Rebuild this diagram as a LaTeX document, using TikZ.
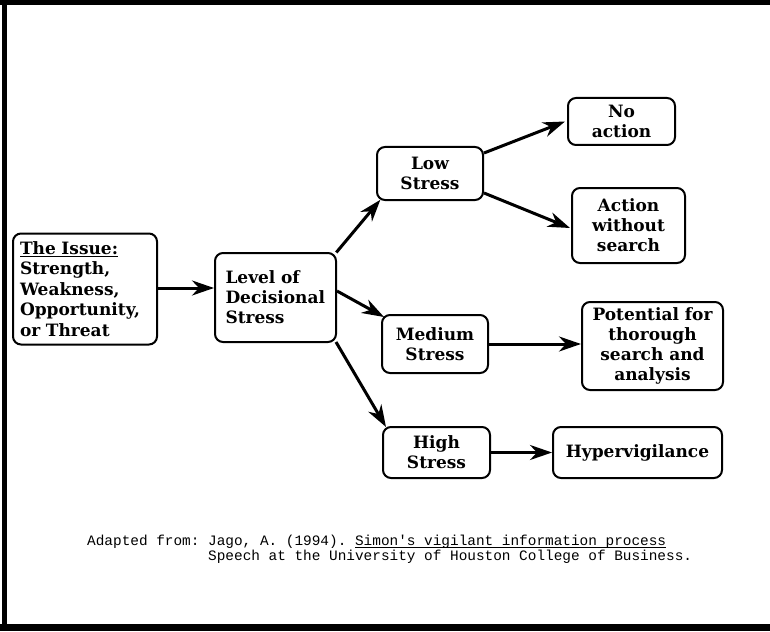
\documentclass[tikz,border=0pt]{standalone}
\usepackage{fontspec}
\setmainfont{DejaVu Serif}
\setmonofont{Liberation Mono}
\usetikzlibrary{arrows.meta}
\newcommand\myul[1]{\setbox0\hbox{#1}\rlap{\rule[-3pt]{\wd0}{0.9pt}}\box0}
\tikzset{
  box/.style={draw, line width=2pt, rounded corners=8pt, inner sep=2pt,
    font=\fontsize{17}{20}\selectfont\bfseries, align=center},
  link/.style={line width=3pt, -{Stealth[length=22pt,width=15pt,inset=7pt]}},
  captext/.style={font=\fontsize{14.4}{15}\selectfont\ttfamily, anchor=base west, inner sep=0pt}
}
\begin{document}
\begin{tikzpicture}[x=1pt,y=-1pt]
\useasboundingbox (0,0) rectangle (770,631);
\fill[black] (0,0) rectangle (770,5.5);
\fill[black] (2,0) rectangle (7,631);
\fill[black] (0,624) rectangle (770,631);

\node[box, minimum width=144pt, minimum height=111pt, text width=130pt, align=left,
      font=\fontsize{17}{20.6}\selectfont\bfseries] (issue) at (85,289)
  {\underline{The Issue:}\\Strength,\\Weakness,\\Opportunity,\\or Threat};
\node[box, minimum width=121pt, minimum height=89pt, text width=100pt, align=left] (level) at (275.5,297.5)
  {Level of\\Decisional\\Stress};
\node[box, minimum width=106pt, minimum height=53pt] (low) at (430,173.5) {Low\\Stress};
\node[box, minimum width=107pt, minimum height=47pt] (noact) at (621.5,121.5) {No\\action};
\node[box, minimum width=113pt, minimum height=75pt] (actws) at (628.5,225.5) {Action\\without\\search};
\node[box, minimum width=106pt, minimum height=58pt] (med) at (435,344) {Medium\\Stress};
\node[box, minimum width=141pt, minimum height=88pt] (pot) at (652.5,346) {Potential for\\thorough\\search and\\analysis};
\node[box, minimum width=107pt, minimum height=51pt] (high) at (436.5,452.5) {High\\Stress};
\node[box, minimum width=169pt, minimum height=51pt] (hyper) at (637.5,452.5) {Hypervigilance};

\draw[link] ([yshift=1pt]issue.east) -- ([yshift=1pt]issue.east -| level.west);
\draw[link, shorten <=2pt, shorten >=1pt] ([xshift=-2pt,yshift=-2pt]level.north east) -- ([xshift=5pt,yshift=2pt]low.south west);
\draw[link] ([yshift=6.5pt]level.east) -- ([xshift=3pt,yshift=-3pt]med.north west);
\draw[link] ([xshift=-1pt,yshift=1pt]level.south east) -- ([xshift=4pt,yshift=-1pt]high.north west);
\draw[link] ([yshift=20.5pt]low.east) -- ([xshift=-2pt]noact.west);
\draw[link] ([yshift=-19.5pt]low.east) -- ([xshift=-1pt,yshift=-2.5pt]actws.west);
\draw[link] (med.east) -- (med.east -| pot.west);
\draw[link] (high.east) -- (hyper.west);

\node[captext] (cap1) at (87,545) {Adapted from: Jago, A. (1994). \myul{Simon's vigilant information process}};
\node[captext] (cap2) at (208,560) {Speech at the University of Houston College of Business.};
\end{tikzpicture}
\end{document}
